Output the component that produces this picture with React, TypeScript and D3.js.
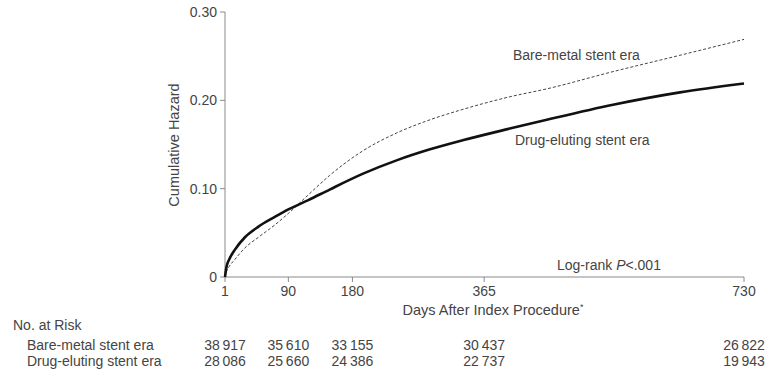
import React from "react";
import * as d3 from "d3";

const days = [1, 3, 7, 15, 29, 48, 71, 90, 118, 148, 195, 242, 289, 336, 401, 453, 546, 640, 730];
const drugEluting = [0, 0.011, 0.02, 0.031, 0.045, 0.057, 0.068, 0.0765, 0.087, 0.099, 0.117, 0.132, 0.1445, 0.155, 0.168, 0.178, 0.195, 0.209, 0.219];
const bareMetal = [0, 0.006, 0.012, 0.02, 0.033, 0.045, 0.059, 0.072, 0.093, 0.115, 0.143, 0.163, 0.178, 0.19, 0.204, 0.213, 0.2325, 0.251, 0.269];

const xTicks = [1, 90, 180, 365, 730];
const yTicks = [0, 0.1, 0.2, 0.3];
const yTickLabels = ["0", "0.10", "0.20", "0.30"];

const riskBare = [38917, 35610, 33155, 30437, 26822];
const riskDrug = [28086, 25660, 24386, 22737, 19943];

const W = 768;
const H = 379;
const FONT = "'Liberation Sans', Arial, sans-serif";
const TXT = "#444";
const AXIS = "#8a8a8a";
const FS = 14;

const fmt = (n: number) => {
  const s = String(n);
  return s.slice(0, s.length - 3) + "\u2009" + s.slice(-3);
};

export default function App() {
  const x = d3.scaleLinear().domain([1, 730]).range([225, 744]);
  const y = d3.scaleLinear().domain([0, 0.3]).range([277, 12]);
  const line = d3
    .line<number>()
    .x((_, i) => x(days[i]))
    .y((d) => y(d))
    .curve(d3.curveMonotoneX);

  return (
    <svg
      width={W}
      height={H}
      style={{ position: "absolute", left: 0, top: 0, background: "#fff" }}
      fontFamily={FONT}
    >
      <line x1={x(1)} x2={x(1)} y1={y(0.3)} y2={y(0)} stroke={AXIS} strokeWidth={1} />
      <line x1={x(1)} x2={x(730)} y1={y(0)} y2={y(0)} stroke={AXIS} strokeWidth={1} />
      {yTicks.map((t, i) => (
        <g key={"y" + i}>
          <line x1={x(1) - 5} x2={x(1)} y1={y(t)} y2={y(t)} stroke={AXIS} />
          <text x={x(1) - 8} y={y(t)} dy="0.35em" textAnchor="end" fontSize={FS} fill={TXT}>
            {yTickLabels[i]}
          </text>
        </g>
      ))}
      {xTicks.map((t, i) => (
        <g key={"x" + i}>
          <line x1={x(t)} x2={x(t)} y1={y(0)} y2={y(0) + 5} stroke={AXIS} />
          <text x={x(t)} y={y(0) + 19} textAnchor="middle" fontSize={FS} fill={TXT}>
            {t}
          </text>
        </g>
      ))}
      <text
        transform={`translate(${179},${145}) rotate(-90)`}
        textAnchor="middle"
        fontSize={14.5}
        fill={TXT}
      >
        Cumulative Hazard
      </text>
      <text x={493} y={315} textAnchor="middle" fontSize={14.5} fill={TXT}>
        Days After Index Procedure
        <tspan dy={-5} fontSize={9}>
          *
        </tspan>
      </text>

      <path d={line(bareMetal) || ""} fill="none" stroke="#444" strokeWidth={1} strokeDasharray="3,2" />
      <path d={line(drugEluting) || ""} fill="none" stroke="#111" strokeWidth={2.6} />

      <text x={513} y={60} fontSize={FS} fill={TXT}>
        Bare-metal stent era
      </text>
      <text x={515} y={145} fontSize={FS} fill={TXT}>
        Drug-eluting stent era
      </text>
      <text x={557} y={270} fontSize={FS} fill={TXT}>
        Log-rank <tspan fontStyle="italic">P</tspan>
        {"<.001"}
      </text>

      <text x={13} y={330} fontSize={FS} fill={TXT}>
        No. at Risk
      </text>
      <text x={27} y={350} fontSize={FS} fill={TXT}>
        Bare-metal stent era
      </text>
      <text x={27} y={366} fontSize={FS} fill={TXT}>
        Drug-eluting stent era
      </text>
      {xTicks.map((t, i) => (
        <g key={"r" + i}>
          <text x={x(t)} y={350} textAnchor="middle" fontSize={FS} fill={TXT}>
            {fmt(riskBare[i])}
          </text>
          <text x={x(t)} y={366} textAnchor="middle" fontSize={FS} fill={TXT}>
            {fmt(riskDrug[i])}
          </text>
        </g>
      ))}
    </svg>
  );
}
